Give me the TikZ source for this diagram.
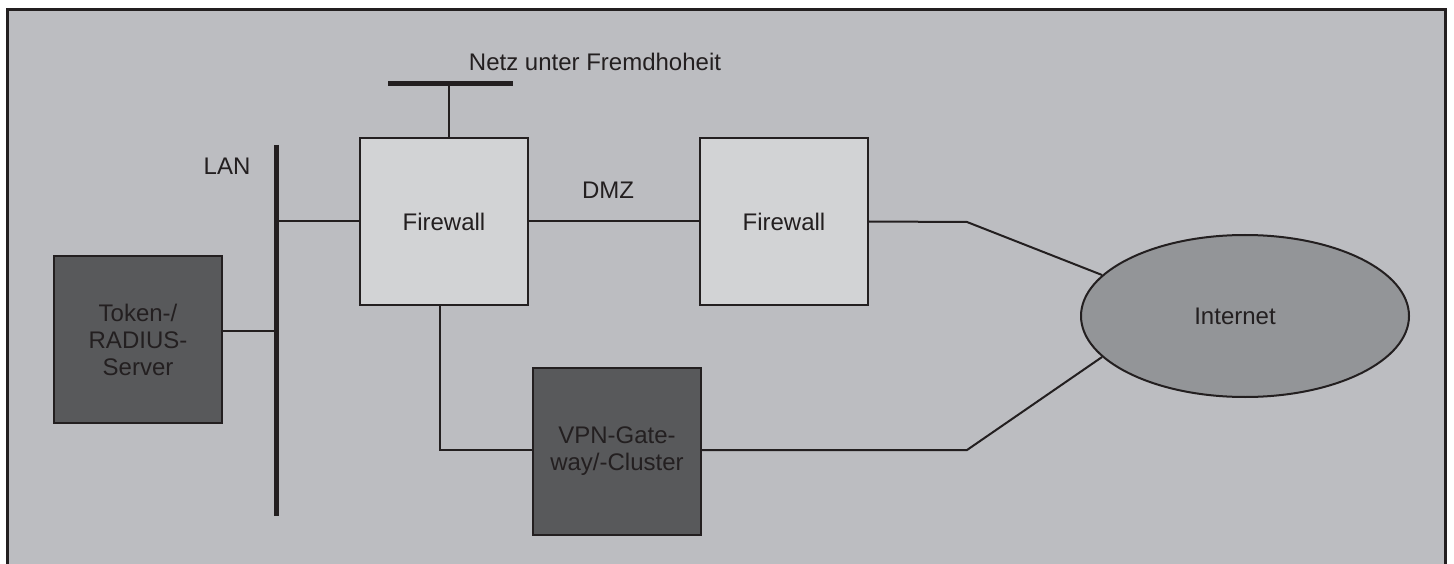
\documentclass[tikz,border=0pt]{standalone}
\usepackage{fontspec}
\setmainfont{Liberation Sans}
\usetikzlibrary{shapes.geometric}
\definecolor{ink}{HTML}{231F20}
\definecolor{bg}{HTML}{BCBDC1}
\definecolor{light}{HTML}{D2D3D5}
\definecolor{dark}{HTML}{58595B}
\definecolor{cloud}{HTML}{939598}
\tikzset{
  box/.style={draw=ink, line width=2pt, minimum width=168pt, minimum height=167pt, inner sep=0pt, align=center, text=ink},
  fwbox/.style={box, fill=light},
  darkbox/.style={box, fill=dark},
  wire/.style={draw=ink, line width=2pt},
  bus/.style={draw=ink, line width=5pt},
  lbl/.style={text=ink, inner sep=0pt},
}
\begin{document}
\begin{tikzpicture}[x=1pt,y=-1pt,font=\fontsize{24}{27}\selectfont]
\useasboundingbox (0,0) rectangle (1454,564);
\clip (0,0) rectangle (1454,564);
\draw[draw=ink, line width=3pt, fill=bg] (7.5,9.5) rectangle (1445,600);

% nodes
\node[darkbox] (token) at (138,339.5) {Token-/\\RADIUS-\\Server};
\node[fwbox] (fw1) at (444,221.5) {Firewall};
\node[fwbox] (fw2) at (784,221.5) {Firewall};
\node[darkbox] (vpn) at (617,451.5) {VPN-Gate-\\way/-Cluster};
\node[draw=ink, line width=2pt, fill=cloud, ellipse, minimum width=328pt, minimum height=162pt, inner sep=0pt, text=ink] (inet) at (1245,316) {Internet\hspace*{20pt}};

% labels
\node[lbl] (lanlbl) at (227,166) {LAN};
\node[lbl] (dmzlbl) at (608,190) {DMZ};
\node[lbl] (netzlbl) at (595,62) {Netz unter Fremdhoheit};

% buses
\coordinate (lanT) at (276,145);
\coordinate (lanB) at (276,516);
\draw[bus] (lanT) -- (lanB);
\coordinate (netzL) at (388,84);
\coordinate (netzR) at (513,84);
\draw[bus] (netzL) -- (netzR);
\coordinate (netzM) at (449,84);

% connectors
\coordinate (tokout) at (222,331);
\draw[wire] (tokout) -- (tokout -| lanT);
\draw[wire] (fw1.west -| lanT) -- (fw1.west);
\draw[wire] (netzM) -- (netzM |- fw1.north);
\draw[wire] (fw1.east) -- (fw2.west);
\coordinate (k1) at (967,222);
\coordinate (k2) at (967,450);
\draw[wire] (fw2.east) -- (k1) -- (inet.164);
\draw[wire] (vpn.east |- k2) -- (k2) -- (inet.196);
\coordinate (fwdrop) at (440,450);
\draw[wire] (fwdrop |- fw1.south) -- (fwdrop) -- (vpn.west |- fwdrop);
\end{tikzpicture}
\end{document}
